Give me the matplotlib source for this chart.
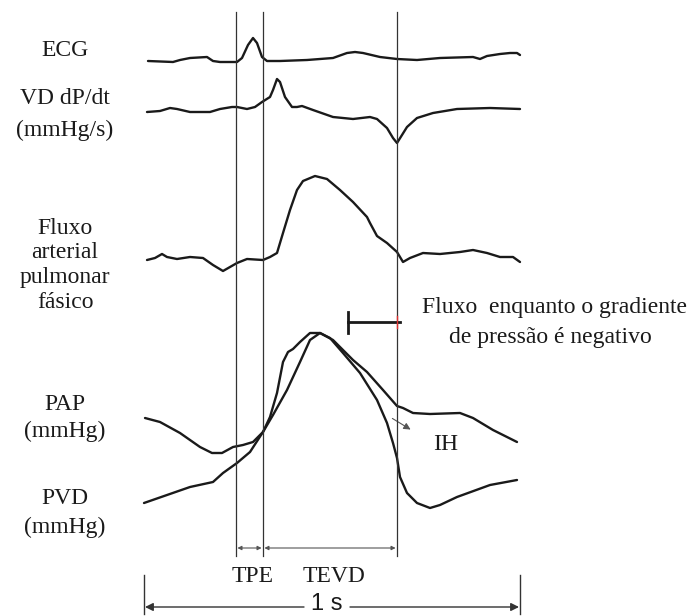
import matplotlib.pyplot as plt
from matplotlib.patches import FancyArrowPatch

# traced waveforms, in image pixel coordinates (x right, y down)
ecg_x = [148, 173, 180, 190, 207, 213, 220, 237, 242, 248, 253, 257, 262, 267, 280, 307, 333, 347,
         355, 363, 380, 397, 417, 440, 473, 480, 487, 500, 510, 517, 520]
ecg_y = [61, 62, 60, 58, 57, 61, 62, 62, 58, 45, 38, 43, 57, 61, 61, 60, 58, 53,
         52, 53, 57, 59, 60, 58, 57, 59, 56, 54, 53, 53, 55]

dpdt_x = [147, 160, 170, 177, 190, 210, 220, 232, 237, 247, 255, 262, 270, 273, 277, 280, 285, 292,
          297, 302, 313, 333, 353, 370, 377, 387, 393, 397, 402, 407, 417, 433, 457, 490, 520]
dpdt_y = [112, 111, 108, 109, 112, 112, 109, 107, 107, 109, 107, 102, 97, 90, 79, 82, 97, 107,
          107, 106, 110, 117, 119, 117, 119, 128, 138, 143, 135, 127, 118, 113, 109, 108, 109]

flow_x = [147, 155, 162, 167, 177, 190, 203, 213, 223, 230, 237, 247, 263, 270, 277, 283, 290, 297,
          303, 315, 327, 340, 353, 367, 370, 377, 387, 397, 403, 410, 423, 440, 460, 473, 487, 500,
          513, 520]
flow_y = [260, 258, 254, 257, 259, 257, 258, 265, 271, 267, 263, 259, 260, 257, 253, 233, 210, 190,
          181, 176, 179, 190, 202, 217, 223, 236, 243, 252, 262, 258, 253, 254, 252, 250, 253, 257,
          257, 262]

pap_x = [145, 160, 180, 200, 212, 222, 233, 243, 253, 263, 270, 277, 283, 288, 293, 300, 310, 320,
         333, 343, 353, 367, 383, 397, 403, 413, 430, 460, 473, 493, 517]
pap_y = [418, 422, 433, 447, 453, 453, 447, 445, 442, 432, 417, 393, 362, 352, 349, 342, 333, 333,
         340, 350, 360, 372, 390, 406, 408, 413, 414, 413, 418, 430, 442]

pvd_x = [144, 167, 190, 213, 223, 237, 250, 263, 273, 287, 300, 310, 320, 330, 343, 360, 377, 387,
         393, 397, 400, 407, 417, 430, 440, 457, 490, 517]
pvd_y = [503, 495, 487, 482, 473, 463, 452, 432, 415, 390, 362, 340, 333, 338, 353, 373, 400, 423,
         443, 458, 477, 493, 503, 508, 505, 497, 485, 480]

event_x = [236, 263, 397]
left_lines = ["ECG", "VD dP/dt", "(mmHg/s)", "Fluxo", "arterial", "pulmonar", "fásico",
              "PAP", "(mmHg)", "PVD", "(mmHg)"]
left_y = [50, 99, 130, 229, 252, 277, 303, 404, 431, 499, 527]

serif = "Liberation Serif"
ink = "#1a1a1a"
fs = 17

fig = plt.figure(figsize=(6.9, 6.16), dpi=100)
ax = fig.add_axes([0, 0, 1, 1])
ax.set_xlim(0, 690)
ax.set_ylim(616, 0)
ax.axis("off")

for xs, ys in [(ecg_x, ecg_y), (dpdt_x, dpdt_y), (flow_x, flow_y), (pap_x, pap_y), (pvd_x, pvd_y)]:
    ax.plot(xs, ys, color=ink, lw=1.7, solid_joinstyle="round", solid_capstyle="round")

for xv in event_x:
    ax.plot([xv, xv], [12, 556], color="#333333", lw=0.9)

for lab, yv in zip(left_lines, left_y):
    ax.text(65, yv, lab, family=serif, fontsize=fs, ha="center", va="center", color=ink)

# flow-while-gradient-negative marker
ax.plot([348, 348], [312, 333], color=ink, lw=2)
ax.plot([348, 400], [322, 322], color=ink, lw=2)
ax.plot([397, 397], [316, 328], color="#e03030", lw=1)
ax.text(554, 307, "Fluxo  enquanto o gradiente", family=serif, fontsize=fs,
        ha="center", va="center", color=ink)
ax.text(550, 338, "de pressão é negativo", family=serif, fontsize=fs,
        ha="center", va="center", color=ink)

# IH arrow
ax.add_patch(FancyArrowPatch((390, 417), (413, 431), arrowstyle="-|>", mutation_scale=10,
                             color="#555555", lw=0.8))
ax.text(446, 445, "IH", family=serif, fontsize=fs, ha="center", va="center", color=ink)

# interval arrows
for x0, x1 in [(236, 263), (263, 397)]:
    ax.add_patch(FancyArrowPatch((x0, 548), (x1, 548), arrowstyle="<|-|>", mutation_scale=6,
                                 color="#555555", lw=0.8, shrinkA=1, shrinkB=1))
ax.text(253, 576, "TPE", family=serif, fontsize=fs, ha="center", va="center", color=ink)
ax.text(334, 576, "TEVD", family=serif, fontsize=fs, ha="center", va="center", color=ink)

# 1 s scale bar
for xv in [144, 520]:
    ax.plot([xv, xv], [575, 614], color="#333333", lw=1)
ax.add_patch(FancyArrowPatch((304, 607), (145, 607), arrowstyle="-|>", mutation_scale=12,
                             color="#333333", lw=1, shrinkA=0, shrinkB=0))
ax.add_patch(FancyArrowPatch((350, 607), (519, 607), arrowstyle="-|>", mutation_scale=12,
                             color="#333333", lw=1, shrinkA=0, shrinkB=0))
ax.text(327, 604, "1 s", family="Liberation Sans", fontsize=17, ha="center", va="center",
        color=ink)

fig.savefig("out.png", dpi=100)
